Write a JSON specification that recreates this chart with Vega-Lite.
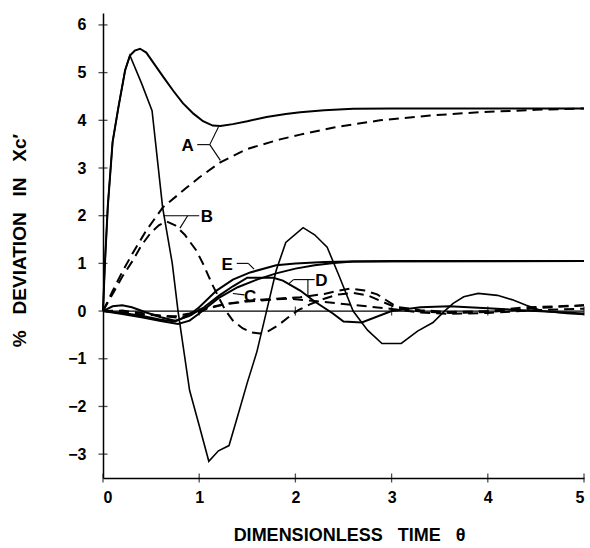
{
  "$schema": "https://vega.github.io/schema/vega-lite/v6.json",
  "width": 481,
  "height": 465,
  "autosize": {"type": "none"},
  "padding": {"left": 103, "top": 13, "right": 6, "bottom": 70},
  "background": "white",
  "config": {
    "view": {"stroke": null},
    "font": "Liberation Sans",
    "axis": {"grid": false, "ticks": false, "domainColor": "black", "domainWidth": 1.5, "labelColor": "black", "labelFont": "Liberation Sans", "labelFontWeight": "bold", "labelFontSize": 16, "titleColor": "black", "titleFont": "Liberation Sans", "titleFontWeight": "bold", "titleFontSize": 19}
  },
  "datasets": {
    "curves": [
      {"s":"A","k":"solid","x":0,"y":0},{"s":"A","k":"solid","x":0.02,"y":1.0},{"s":"A","k":"solid","x":0.05,"y":2.2},{"s":"A","k":"solid","x":0.1,"y":3.55},{"s":"A","k":"solid","x":0.16,"y":4.27},{"s":"A","k":"solid","x":0.23,"y":5.05},{"s":"A","k":"solid","x":0.28,"y":5.36},{"s":"A","k":"solid","x":0.33,"y":5.46},{"s":"A","k":"solid","x":0.385,"y":5.5},{"s":"A","k":"solid","x":0.45,"y":5.42},{"s":"A","k":"solid","x":0.53,"y":5.19},{"s":"A","k":"solid","x":0.63,"y":4.9},{"s":"A","k":"solid","x":0.73,"y":4.62},{"s":"A","k":"solid","x":0.83,"y":4.36},{"s":"A","k":"solid","x":0.94,"y":4.14},{"s":"A","k":"solid","x":1.04,"y":3.98},{"s":"A","k":"solid","x":1.14,"y":3.89},{"s":"A","k":"solid","x":1.22,"y":3.88},{"s":"A","k":"solid","x":1.35,"y":3.92},{"s":"A","k":"solid","x":1.5,"y":3.98},{"s":"A","k":"solid","x":1.7,"y":4.07},{"s":"A","k":"solid","x":1.9,"y":4.13},{"s":"A","k":"solid","x":2.05,"y":4.17},{"s":"A","k":"solid","x":2.3,"y":4.21},{"s":"A","k":"solid","x":2.6,"y":4.24},{"s":"A","k":"solid","x":3.0,"y":4.25},{"s":"A","k":"solid","x":4.0,"y":4.25},{"s":"A","k":"solid","x":5.0,"y":4.25},
      {"s":"A","k":"dashed","x":0,"y":0},{"s":"A","k":"dashed","x":0.1,"y":0.42},{"s":"A","k":"dashed","x":0.2,"y":0.82},{"s":"A","k":"dashed","x":0.31,"y":1.22},{"s":"A","k":"dashed","x":0.45,"y":1.69},{"s":"A","k":"dashed","x":0.62,"y":2.17},{"s":"A","k":"dashed","x":0.87,"y":2.59},{"s":"A","k":"dashed","x":1.0,"y":2.8},{"s":"A","k":"dashed","x":1.22,"y":3.12},{"s":"A","k":"dashed","x":1.5,"y":3.4},{"s":"A","k":"dashed","x":1.84,"y":3.6},{"s":"A","k":"dashed","x":2.05,"y":3.7},{"s":"A","k":"dashed","x":2.4,"y":3.85},{"s":"A","k":"dashed","x":2.88,"y":4.0},{"s":"A","k":"dashed","x":3.4,"y":4.1},{"s":"A","k":"dashed","x":3.92,"y":4.17},{"s":"A","k":"dashed","x":4.5,"y":4.22},{"s":"A","k":"dashed","x":5.0,"y":4.25},
      {"s":"B","k":"solid","x":0,"y":0},{"s":"B","k":"solid","x":0.02,"y":1.0},{"s":"B","k":"solid","x":0.05,"y":2.2},{"s":"B","k":"solid","x":0.1,"y":3.55},{"s":"B","k":"solid","x":0.16,"y":4.27},{"s":"B","k":"solid","x":0.23,"y":5.05},{"s":"B","k":"solid","x":0.28,"y":5.36},{"s":"B","k":"solid","x":0.4,"y":4.78},{"s":"B","k":"solid","x":0.51,"y":4.2},{"s":"B","k":"solid","x":0.62,"y":2.17},{"s":"B","k":"solid","x":0.72,"y":1.0},{"s":"B","k":"solid","x":0.78,"y":0.0},{"s":"B","k":"solid","x":0.9,"y":-1.66},{"s":"B","k":"solid","x":1.0,"y":-2.4},{"s":"B","k":"solid","x":1.1,"y":-3.15},{"s":"B","k":"solid","x":1.2,"y":-2.93},{"s":"B","k":"solid","x":1.31,"y":-2.82},{"s":"B","k":"solid","x":1.4,"y":-2.2},{"s":"B","k":"solid","x":1.5,"y":-1.5},{"s":"B","k":"solid","x":1.6,"y":-0.85},{"s":"B","k":"solid","x":1.7,"y":0.0},{"s":"B","k":"solid","x":1.8,"y":0.85},{"s":"B","k":"solid","x":1.9,"y":1.44},{"s":"B","k":"solid","x":2.08,"y":1.75},{"s":"B","k":"solid","x":2.2,"y":1.6},{"s":"B","k":"solid","x":2.33,"y":1.34},{"s":"B","k":"solid","x":2.46,"y":0.71},{"s":"B","k":"solid","x":2.6,"y":0.0},{"s":"B","k":"solid","x":2.75,"y":-0.4},{"s":"B","k":"solid","x":2.9,"y":-0.68},{"s":"B","k":"solid","x":3.1,"y":-0.68},{"s":"B","k":"solid","x":3.27,"y":-0.42},{"s":"B","k":"solid","x":3.43,"y":-0.24},{"s":"B","k":"solid","x":3.55,"y":0.0},{"s":"B","k":"solid","x":3.64,"y":0.16},{"s":"B","k":"solid","x":3.75,"y":0.3},{"s":"B","k":"solid","x":3.9,"y":0.37},{"s":"B","k":"solid","x":4.1,"y":0.33},{"s":"B","k":"solid","x":4.25,"y":0.24},{"s":"B","k":"solid","x":4.4,"y":0.12},{"s":"B","k":"solid","x":4.57,"y":0.0},{"s":"B","k":"solid","x":4.82,"y":-0.05},{"s":"B","k":"solid","x":5.0,"y":-0.07},
      {"s":"B","k":"dashed","x":0,"y":0},{"s":"B","k":"dashed","x":0.1,"y":0.36},{"s":"B","k":"dashed","x":0.2,"y":0.72},{"s":"B","k":"dashed","x":0.31,"y":1.06},{"s":"B","k":"dashed","x":0.4,"y":1.38},{"s":"B","k":"dashed","x":0.5,"y":1.65},{"s":"B","k":"dashed","x":0.58,"y":1.8},{"s":"B","k":"dashed","x":0.66,"y":1.88},{"s":"B","k":"dashed","x":0.75,"y":1.8},{"s":"B","k":"dashed","x":0.85,"y":1.6},{"s":"B","k":"dashed","x":0.97,"y":1.27},{"s":"B","k":"dashed","x":1.05,"y":0.95},{"s":"B","k":"dashed","x":1.13,"y":0.58},{"s":"B","k":"dashed","x":1.2,"y":0.3},{"s":"B","k":"dashed","x":1.27,"y":0.02},{"s":"B","k":"dashed","x":1.35,"y":-0.2},{"s":"B","k":"dashed","x":1.45,"y":-0.36},{"s":"B","k":"dashed","x":1.55,"y":-0.45},{"s":"B","k":"dashed","x":1.63,"y":-0.47},{"s":"B","k":"dashed","x":1.72,"y":-0.42},{"s":"B","k":"dashed","x":1.82,"y":-0.3},{"s":"B","k":"dashed","x":1.92,"y":-0.14},{"s":"B","k":"dashed","x":2.03,"y":0.02},{"s":"B","k":"dashed","x":2.15,"y":0.14},{"s":"B","k":"dashed","x":2.3,"y":0.26},{"s":"B","k":"dashed","x":2.45,"y":0.35},{"s":"B","k":"dashed","x":2.6,"y":0.38},{"s":"B","k":"dashed","x":2.75,"y":0.33},{"s":"B","k":"dashed","x":2.9,"y":0.2},{"s":"B","k":"dashed","x":3.05,"y":0.07},{"s":"B","k":"dashed","x":3.3,"y":-0.01},{"s":"B","k":"dashed","x":3.6,"y":-0.04},{"s":"B","k":"dashed","x":4.0,"y":-0.02},{"s":"B","k":"dashed","x":4.5,"y":0.06},{"s":"B","k":"dashed","x":5.0,"y":0.12},
      {"s":"C","k":"solid","x":0,"y":0},{"s":"C","k":"solid","x":0.2,"y":-0.06},{"s":"C","k":"solid","x":0.4,"y":-0.13},{"s":"C","k":"solid","x":0.6,"y":-0.21},{"s":"C","k":"solid","x":0.78,"y":-0.27},{"s":"C","k":"solid","x":0.9,"y":-0.2},{"s":"C","k":"solid","x":1.0,"y":-0.05},{"s":"C","k":"solid","x":1.2,"y":0.27},{"s":"C","k":"solid","x":1.4,"y":0.5},{"s":"C","k":"solid","x":1.6,"y":0.66},{"s":"C","k":"solid","x":1.8,"y":0.79},{"s":"C","k":"solid","x":2.0,"y":0.89},{"s":"C","k":"solid","x":2.2,"y":0.96},{"s":"C","k":"solid","x":2.4,"y":1.01},{"s":"C","k":"solid","x":2.6,"y":1.04},{"s":"C","k":"solid","x":3.0,"y":1.05},{"s":"C","k":"solid","x":5.0,"y":1.05},
      {"s":"C","k":"dashed","x":0,"y":0},{"s":"C","k":"dashed","x":0.2,"y":-0.03},{"s":"C","k":"dashed","x":0.4,"y":-0.07},{"s":"C","k":"dashed","x":0.6,"y":-0.1},{"s":"C","k":"dashed","x":0.75,"y":-0.11},{"s":"C","k":"dashed","x":0.9,"y":-0.05},{"s":"C","k":"dashed","x":1.05,"y":0.05},{"s":"C","k":"dashed","x":1.25,"y":0.14},{"s":"C","k":"dashed","x":1.5,"y":0.2},{"s":"C","k":"dashed","x":1.75,"y":0.24},{"s":"C","k":"dashed","x":1.94,"y":0.26},{"s":"C","k":"dashed","x":2.2,"y":0.21},{"s":"C","k":"dashed","x":2.5,"y":0.15},{"s":"C","k":"dashed","x":2.98,"y":0.05},{"s":"C","k":"dashed","x":3.3,"y":-0.03},{"s":"C","k":"dashed","x":3.6,"y":-0.06},{"s":"C","k":"dashed","x":4.0,"y":-0.04},{"s":"C","k":"dashed","x":4.5,"y":0.02},{"s":"C","k":"dashed","x":5.0,"y":0.05},
      {"s":"D","k":"solid","x":0,"y":0},{"s":"D","k":"solid","x":0.1,"y":0.1},{"s":"D","k":"solid","x":0.2,"y":0.12},{"s":"D","k":"solid","x":0.3,"y":0.08},{"s":"D","k":"solid","x":0.45,"y":-0.03},{"s":"D","k":"solid","x":0.6,"y":-0.13},{"s":"D","k":"solid","x":0.75,"y":-0.2},{"s":"D","k":"solid","x":0.9,"y":-0.1},{"s":"D","k":"solid","x":1.05,"y":0.08},{"s":"D","k":"solid","x":1.21,"y":0.33},{"s":"D","k":"solid","x":1.35,"y":0.52},{"s":"D","k":"solid","x":1.5,"y":0.7},{"s":"D","k":"solid","x":1.77,"y":0.7},{"s":"D","k":"solid","x":1.87,"y":0.64},{"s":"D","k":"solid","x":2.05,"y":0.43},{"s":"D","k":"solid","x":2.2,"y":0.2},{"s":"D","k":"solid","x":2.39,"y":-0.05},{"s":"D","k":"solid","x":2.5,"y":-0.22},{"s":"D","k":"solid","x":2.69,"y":-0.24},{"s":"D","k":"solid","x":3.0,"y":0.0},{"s":"D","k":"solid","x":3.3,"y":0.08},{"s":"D","k":"solid","x":3.6,"y":0.1},{"s":"D","k":"solid","x":4.0,"y":0.06},{"s":"D","k":"solid","x":4.5,"y":0.0},{"s":"D","k":"solid","x":5.0,"y":-0.05},
      {"s":"D","k":"dashed","x":0,"y":0},{"s":"D","k":"dashed","x":0.2,"y":0.01},{"s":"D","k":"dashed","x":0.4,"y":-0.04},{"s":"D","k":"dashed","x":0.6,"y":-0.1},{"s":"D","k":"dashed","x":0.78,"y":-0.14},{"s":"D","k":"dashed","x":0.95,"y":-0.06},{"s":"D","k":"dashed","x":1.1,"y":0.06},{"s":"D","k":"dashed","x":1.3,"y":0.16},{"s":"D","k":"dashed","x":1.53,"y":0.22},{"s":"D","k":"dashed","x":1.8,"y":0.26},{"s":"D","k":"dashed","x":2.05,"y":0.29},{"s":"D","k":"dashed","x":2.3,"y":0.36},{"s":"D","k":"dashed","x":2.45,"y":0.43},{"s":"D","k":"dashed","x":2.57,"y":0.47},{"s":"D","k":"dashed","x":2.72,"y":0.43},{"s":"D","k":"dashed","x":2.85,"y":0.35},{"s":"D","k":"dashed","x":3.05,"y":0.09},{"s":"D","k":"dashed","x":3.3,"y":0.02},{"s":"D","k":"dashed","x":3.6,"y":-0.02},{"s":"D","k":"dashed","x":4.0,"y":0.0},{"s":"D","k":"dashed","x":4.4,"y":0.08},{"s":"D","k":"dashed","x":5.0,"y":0.12},
      {"s":"E","k":"solid","x":0,"y":0},{"s":"E","k":"solid","x":0.2,"y":-0.04},{"s":"E","k":"solid","x":0.4,"y":-0.1},{"s":"E","k":"solid","x":0.6,"y":-0.18},{"s":"E","k":"solid","x":0.75,"y":-0.22},{"s":"E","k":"solid","x":0.9,"y":-0.08},{"s":"E","k":"solid","x":1.0,"y":0.08},{"s":"E","k":"solid","x":1.18,"y":0.43},{"s":"E","k":"solid","x":1.35,"y":0.66},{"s":"E","k":"solid","x":1.53,"y":0.81},{"s":"E","k":"solid","x":1.8,"y":0.96},{"s":"E","k":"solid","x":2.0,"y":1.0},{"s":"E","k":"solid","x":2.3,"y":1.03},{"s":"E","k":"solid","x":2.57,"y":1.04},{"s":"E","k":"solid","x":5.0,"y":1.05}
    ],
    "leaders": [
      {"id":"zero","x":0,"y":0},{"id":"zero","x":5,"y":0},
      {"id":"A1","x":0.98,"y":3.49},{"id":"A1","x":1.11,"y":3.49},
      {"id":"A2","x":1.11,"y":3.49},{"id":"A2","x":1.2,"y":3.86},
      {"id":"A3","x":1.11,"y":3.49},{"id":"A3","x":1.22,"y":3.16},
      {"id":"B1","x":0.63,"y":2.0},{"id":"B1","x":1.0,"y":2.0},
      {"id":"B2","x":0.88,"y":2.0},{"id":"B2","x":0.8,"y":1.74},
      {"id":"E1","x":1.39,"y":1.0},{"id":"E1","x":1.51,"y":1.0},
      {"id":"E2","x":1.51,"y":1.0},{"id":"E2","x":1.57,"y":0.88},
      {"id":"C1","x":1.47,"y":0.34},{"id":"C1","x":1.35,"y":0.37},
      {"id":"D1","x":1.98,"y":0.66},{"id":"D1","x":2.2,"y":0.66},
      {"id":"D2","x":2.13,"y":0.66},{"id":"D2","x":2.13,"y":0.3},
      {"id":"D3","x":1.98,"y":0.66},{"id":"D3","x":1.93,"y":0.57}
    ],
    "labels": [
      {"t":"A","x":0.88,"y":3.47},{"t":"B","x":1.08,"y":1.97},{"t":"C","x":1.53,"y":0.29},{"t":"D","x":2.27,"y":0.63},{"t":"E","x":1.29,"y":0.96}
    ],
    "xticks": [{"x":0,"y":-3.5},{"x":1,"y":-3.5},{"x":2,"y":-3.5},{"x":3,"y":-3.5},{"x":4,"y":-3.5},{"x":5,"y":-3.5},{"x":1,"y":0},{"x":2,"y":0},{"x":3,"y":0},{"x":4,"y":0},{"x":5,"y":0}],
    "yticks": [{"x":0,"y":-3},{"x":0,"y":-2},{"x":0,"y":-1},{"x":0,"y":0},{"x":0,"y":1},{"x":0,"y":2},{"x":0,"y":3},{"x":0,"y":4},{"x":0,"y":5},{"x":0,"y":6}]
  },
  "encoding": {
    "x": {"field": "x", "type": "quantitative", "scale": {"domain": [0, 5], "nice": false, "zero": false},
      "axis": {"values": [0,1,2,3,4,5], "labelPadding": 11, "title": "DIMENSIONLESS\u00a0\u00a0 TIME\u00a0\u00a0 θ", "titleFontSize": 18, "titleBaseline": "middle", "titleY": 57, "titleX": 246}},
    "y": {"field": "y", "type": "quantitative", "scale": {"domain": [-3.5, 6.25], "nice": false, "zero": false},
      "axis": {"values": [-3,-2,-1,0,1,2,3,4,5,6], "labelPadding": 17, "title": "%\u00a0\u00a0 DEVIATION\u00a0\u00a0 IN\u00a0\u00a0 Xc′", "titleBaseline": "middle", "titleX": -84, "titleY": 227, "titleAngle": -90}}
  },
  "layer": [
    {"data": {"name": "xticks"}, "mark": {"type": "tick", "orient": "vertical", "size": 9, "thickness": 1.3, "color": "black"}},
    {"data": {"name": "yticks"}, "mark": {"type": "tick", "orient": "horizontal", "size": 9, "thickness": 1.3, "color": "black"}},
    {"data": {"name": "leaders"}, "mark": {"type": "line", "color": "black", "strokeWidth": 1.1}, "encoding": {"detail": {"field": "id"}}},
    {"data": {"name": "curves"}, "transform": [{"filter": "datum.k === 'solid' && datum.s !== 'B'"}], "mark": {"type": "line", "color": "black", "strokeWidth": 2}, "encoding": {"detail": {"field": "s"}}},
    {"data": {"name": "curves"}, "transform": [{"filter": "datum.k === 'solid' && datum.s === 'B'"}], "mark": {"type": "line", "color": "black", "strokeWidth": 1.6}, "encoding": {"detail": {"field": "s"}}},
    {"data": {"name": "curves"}, "transform": [{"filter": "datum.k === 'dashed'"}], "mark": {"type": "line", "color": "black", "strokeWidth": 2, "strokeDash": [10, 6]}, "encoding": {"detail": {"field": "s"}}},
    {"data": {"name": "labels"}, "mark": {"type": "text", "font": "Liberation Sans", "fontWeight": "bold", "fontSize": 17, "color": "black", "align": "center", "baseline": "middle"}, "encoding": {"text": {"field": "t"}}}
  ]
}
